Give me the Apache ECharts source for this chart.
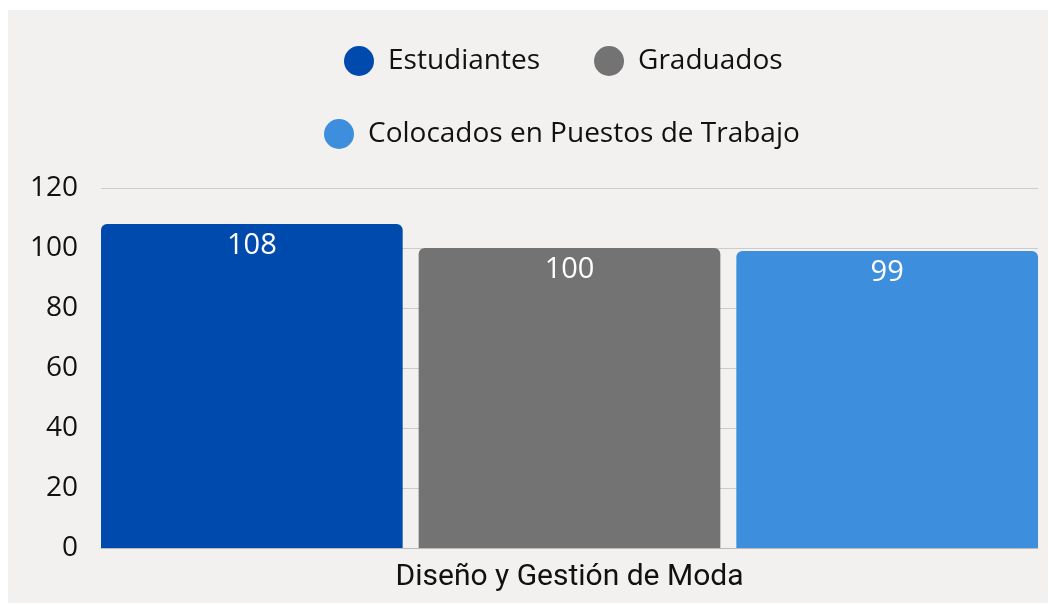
<!DOCTYPE html>
<html>
<head>
<meta charset="utf-8">
<script src="https://cdn.jsdelivr.net/npm/echarts@6/dist/echarts.min.js"></script>
<style>
  html, body { margin: 0; padding: 0; background: #ffffff; }
  #chart { position: absolute; left: 8px; top: 10px; width: 1040px; height: 593px; background: #f2f1f0; }
</style>
</head>
<body>
<div id="chart"></div>
<script>
// datos del gráfico
const categories = ['Diseño y Gestión de Moda']
const seriesNames = ['Estudiantes', 'Graduados', 'Colocados en Puestos de Trabajo']
const seriesValues = [[108], [100], [99]]
const seriesColors = ['#004aad', '#737373', '#3d8fde']
const yTicks = [0, 20, 40, 60, 80, 100, 120]

const chart = echarts.init(document.getElementById('chart'))

const legendText = { fontSize: 28, color: '#111', fontFamily: 'Open Sans' }

const option = {
  backgroundColor: '#f2f1f0',
  animation: false,
  legend: [
    {
      data: seriesNames.slice(0, 2),
      top: 31,
      left: 331,
      icon: 'circle',
      itemWidth: 48,
      itemHeight: 30,
      itemGap: 54,
      textStyle: legendText,
    },
    {
      data: seriesNames.slice(2),
      top: 104,
      left: 311,
      icon: 'circle',
      itemWidth: 48,
      itemHeight: 30,
      textStyle: legendText,
    },
  ],
  grid: {
    left: 93,
    right: 10,
    top: 178,
    bottom: 55,
  },
  xAxis: {
    type: 'category',
    data: categories,
    axisTick: { show: false },
    axisLine: { lineStyle: { color: '#bbb' } },
    axisLabel: {
      fontSize: 30,
      color: '#111',
      margin: 14,
      fontFamily: 'Roboto',
    },
  },
  yAxis: {
    type: 'value',
    min: yTicks[0],
    max: yTicks[yTicks.length - 1],
    interval: yTicks[1] - yTicks[0],
    axisLine: { show: false },
    axisTick: { show: false },
    axisLabel: {
      fontSize: 28,
      color: '#111',
      margin: 23,
      fontFamily: 'Open Sans',
    },
    splitLine: { lineStyle: { color: '#cccccc' } },
  },
  series: seriesNames.map((name, i) => ({
    name,
    type: 'bar',
    data: seriesValues[i],
    barCategoryGap: 0,
    barGap: '5.3%',
    itemStyle: {
      color: seriesColors[i],
      borderRadius: [6, 6, 0, 0],
    },
    label: {
      show: true,
      position: 'insideTop',
      distance: 7,
      fontSize: 29,
      color: '#ffffff',
      fontFamily: 'Open Sans',
    },
  })),
}

chart.setOption(option)
</script>
</body>
</html>
